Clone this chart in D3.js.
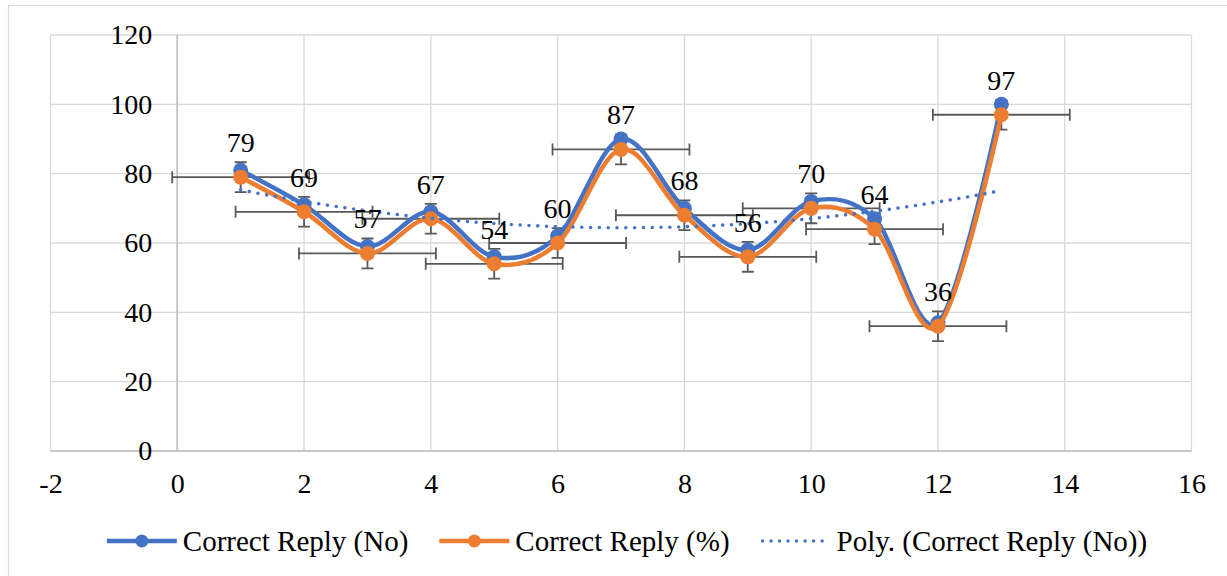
<!DOCTYPE html>
<html>
<head>
<meta charset="utf-8">
<script src="https://cdn.jsdelivr.net/npm/d3@7"></script>
<style>
  html, body { margin: 0; padding: 0; background: #fff; }
  svg text { font-family: "Liberation Serif", Tinos, "Times New Roman", "DejaVu Serif", "Noto Serif", serif; fill: #000; }
</style>
</head>
<body>
<div id="chart"></div>
<script>
// x positions of the questions and the two series
const questions = [1, 2, 3, 4, 5, 6, 7, 8, 9, 10, 11, 12, 13];
const correctNo = [81, 71, 59, 69, 56, 62, 90, 70, 58, 72, 67, 37, 100];
const correctPct = [79, 69, 57, 67, 54, 60, 87, 68, 56, 70, 64, 36, 97];
// standard-error bars on the % series (constant size)
const errX = 1.08;
const errY = 4.3;
const xTicks = [-2, 0, 2, 4, 6, 8, 10, 12, 14, 16];
const yTicks = [0, 20, 40, 60, 80, 100, 120];
const legendNames = ['Correct Reply (No)', 'Correct Reply (%)', 'Poly. (Correct Reply (No))'];

const W = 1227, H = 576;
const BLUE = '#4472C4', ORANGE = '#ED7D31', BAR = '#595959', GRID = '#d9d9d9';
const FONT = '"Liberation Serif", Tinos, "Times New Roman", "DejaVu Serif", "Noto Serif", serif';

const svg = d3.select('#chart').append('svg').attr('width', W).attr('height', H)
  .attr('font-family', FONT);

// outer chart border
svg.append('rect').attr('x', 8.5).attr('y', 5.5).attr('width', W + 10).attr('height', H + 10)
  .attr('fill', 'none').attr('stroke', GRID).attr('stroke-width', 1.2);

const x = d3.scaleLinear().domain([-2, 16]).range([50.5, 1191.5]);
const y = d3.scaleLinear().domain([0, 120]).range([451, 35]);

// --- Grid ---
const grid = svg.append('g');
grid.selectAll('.gx').data(xTicks).join('line')
  .attr('x1', (d) => x(d)).attr('x2', (d) => x(d))
  .attr('y1', y(120)).attr('y2', y(0))
  .attr('stroke', GRID).attr('stroke-width', 1.3);
grid.selectAll('.gy').data(yTicks).join('line')
  .attr('x1', x(-2)).attr('x2', x(16))
  .attr('y1', (d) => y(d)).attr('y2', (d) => y(d))
  .attr('stroke', GRID).attr('stroke-width', 1.3);
// axis lines through zero
svg.append('line').attr('x1', x(-2)).attr('x2', x(16)).attr('y1', y(0)).attr('y2', y(0))
  .attr('stroke', '#bfbfbf').attr('stroke-width', 1.6);
svg.append('line').attr('x1', x(0)).attr('x2', x(0)).attr('y1', y(120)).attr('y2', y(0))
  .attr('stroke', '#bfbfbf').attr('stroke-width', 1.6);

// --- Axes (labels only) ---
const yAxis = svg.append('g').attr('transform', `translate(${x(0)},0)`)
  .call(d3.axisLeft(y).tickValues(yTicks).tickSize(0).tickPadding(25));
const xAxis = svg.append('g').attr('transform', `translate(0,${y(0)})`)
  .call(d3.axisBottom(x).tickValues(xTicks).tickSize(0).tickFormat((d) => String(d)));
[yAxis, xAxis].forEach((a) => {
  a.attr('font-family', FONT).attr('font-size', 28);
  a.select('.domain').remove();
  a.selectAll('text').attr('fill', '#000');
});
xAxis.selectAll('text').attr('y', 32).attr('dy', '0.35em');

// --- Error bars on the % series ---
const pts = questions.map((q, i) => ({ x: q, no: correctNo[i], pct: correctPct[i] }));
const eb = svg.append('g').attr('stroke', BAR).attr('stroke-width', 1.8).attr('fill', 'none');
pts.forEach((p) => {
  const cx = x(p.x), cy = y(p.pct);
  const l = x(p.x - errX), r = x(p.x + errX), t = y(p.pct + errY), b = y(p.pct - errY);
  eb.append('path').attr('d',
    `M${l},${cy}H${r}M${l},${cy - 6}V${cy + 6}M${r},${cy - 6}V${cy + 6}` +
    `M${cx},${t}V${b}M${cx - 6},${t}H${cx + 6}M${cx - 6},${b}H${cx + 6}`);
});

// --- Series ---
const curve = d3.curveCardinal.tension(0);
const lineNo = d3.line().x((d) => x(d.x)).y((d) => y(d.no)).curve(curve);
const linePct = d3.line().x((d) => x(d.x)).y((d) => y(d.pct)).curve(curve);

svg.append('path').datum(pts).attr('d', lineNo)
  .attr('fill', 'none').attr('stroke', BLUE).attr('stroke-width', 4.5);
svg.append('g').selectAll('circle').data(pts).join('circle')
  .attr('cx', (d) => x(d.x)).attr('cy', (d) => y(d.no)).attr('r', 7.5).attr('fill', BLUE);

svg.append('path').datum(pts).attr('d', linePct)
  .attr('fill', 'none').attr('stroke', ORANGE).attr('stroke-width', 4.5);
svg.append('g').selectAll('circle').data(pts).join('circle')
  .attr('cx', (d) => x(d.x)).attr('cy', (d) => y(d.pct)).attr('r', 7.5).attr('fill', ORANGE);

// --- Polynomial (order 2) trendline of the No series, least squares ---
function quadFit(xs, ys) {
  let s = [0, 0, 0, 0, 0], t = [0, 0, 0];
  xs.forEach((xv, i) => {
    for (let k = 0; k < 5; k++) s[k] += Math.pow(xv, k);
    for (let k = 0; k < 3; k++) t[k] += Math.pow(xv, k) * ys[i];
  });
  const M = [[s[0], s[1], s[2], t[0]], [s[1], s[2], s[3], t[1]], [s[2], s[3], s[4], t[2]]];
  for (let c = 0; c < 3; c++) {
    for (let r = c + 1; r < 3; r++) {
      const f = M[r][c] / M[c][c];
      for (let k = c; k < 4; k++) M[r][k] -= f * M[c][k];
    }
  }
  const co = [0, 0, 0];
  for (let r = 2; r >= 0; r--) {
    let v = M[r][3];
    for (let k = r + 1; k < 3; k++) v -= M[r][k] * co[k];
    co[r] = v / M[r][r];
  }
  return (xv) => co[0] + co[1] * xv + co[2] * xv * xv;
}
const trend = quadFit(questions, correctNo);
const trendPts = d3.range(0, 121).map((i) => {
  const xv = questions[0] + (i / 120) * (questions[questions.length - 1] - questions[0]);
  return [x(xv), y(trend(xv))];
});
svg.append('path').attr('d', d3.line()(trendPts))
  .attr('fill', 'none').attr('stroke', BLUE).attr('stroke-width', 3.5)
  .attr('stroke-linecap', 'round').attr('stroke-dasharray', '0.01 8.8');

// --- Data labels ---
svg.append('g').attr('font-size', 28).selectAll('text').data(pts).join('text')
  .attr('x', (d) => x(d.x)).attr('y', (d) => y(d.pct) - 25)
  .attr('text-anchor', 'middle')
  .text((d) => d.pct);

// --- Legend ---
const legend = svg.append('g').attr('transform', 'translate(0,541)').attr('font-size', 29);
const items = legend.selectAll('g').data(legendNames).join('g');
items.append('text').attr('x', 76).attr('dy', '0.35em').text((d) => d);
items.each(function (d, i) {
  const g = d3.select(this);
  if (i < 2) {
    const c = i === 0 ? BLUE : ORANGE;
    g.append('line').attr('x1', 0).attr('x2', 70).attr('stroke', c).attr('stroke-width', 4.5);
    g.append('circle').attr('cx', 35).attr('r', 6.5).attr('fill', c);
  } else {
    g.append('line').attr('x1', 2).attr('x2', 68).attr('stroke', BLUE).attr('stroke-width', 3.5)
      .attr('stroke-linecap', 'round').attr('stroke-dasharray', '0.01 8.5');
  }
});
const widths = [];
items.each(function () { widths.push(76 + d3.select(this).select('text').node().getComputedTextLength()); });
const gap = 31;
const total = d3.sum(widths) + gap * (widths.length - 1);
let cur = 627 - total / 2;
items.attr('transform', (d, i) => {
  const t = `translate(${cur},0)`;
  cur += widths[i] + gap;
  return t;
});
</script>
</body>
</html>
